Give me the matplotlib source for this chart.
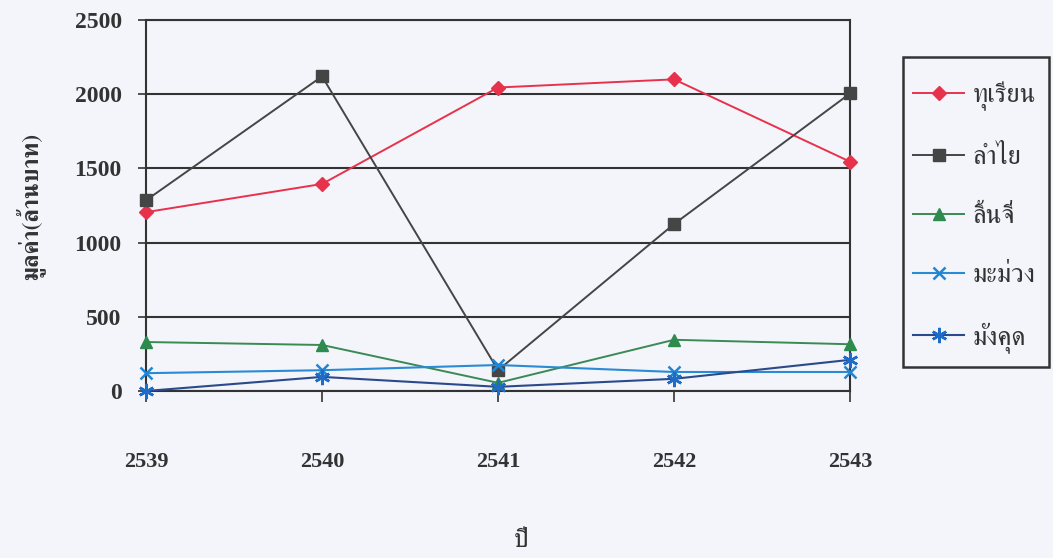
import matplotlib
matplotlib.use("Agg")
import matplotlib.pyplot as plt
from matplotlib import font_manager
from matplotlib.patches import Rectangle

years = [2539, 2540, 2541, 2542, 2543]
series_names = ["ทุเรียน", "ลำไย", "ลิ้นจี่", "มะม่วง", "มังคุด"]
durian = [1205, 1395, 2045, 2100, 1545]
longan = [1285, 2120, 140, 1125, 2005]
lychee = [330, 310, 55, 345, 315]
mango = [120, 140, 175, 128, 128]
mangosteen = [0, 95, 28, 82, 210]
y_ticks = [0, 500, 1000, 1500, 2000, 2500]
x_label = "ปี"
y_label = "มูลค่า(ล้านบาท)"

# find an installed font that has Thai glyphs
thai_font = None
try:
    from fontTools.ttLib import TTFont
    cands = []
    for f in font_manager.fontManager.ttflist:
        try:
            tt = TTFont(f.fname, fontNumber=0, lazy=True)
            cmap = tt.getBestCmap()
            if cmap and 0x0E17 in cmap and 0x0E33 in cmap:
                cands.append(f.name)
        except Exception:
            pass
    if cands:
        serif = [c for c in cands if "Serif" in c]
        thai_font = (serif or cands)[0]
except Exception:
    pass

num_family = ["Liberation Serif", "DejaVu Serif"]
thai_family = ([thai_font] if thai_font else []) + ["Liberation Serif", "DejaVu Sans"]

W, H = 1053, 558
fig = plt.figure(figsize=(W / 100, H / 100), dpi=100)
bg = "#f3f5fa"
fig.patch.set_facecolor(bg)
ax = fig.add_axes([0.1387, 0.2993, 0.6686, 0.6649])
ax.set_facecolor(bg)

grid_c = "#333333"
for v in y_ticks:
    ax.axhline(v, color=grid_c, lw=1.5, zorder=1)

styles = [
    (durian, "#e8324c", "#e8324c", "D", 7, 1.4),
    (longan, "#454545", "#454545", "s", 8, 1.4),
    (lychee, "#3a8a55", "#2e8b4e", "^", 8, 1.4),
    (mango, "#2a8ad4", "#1f86d6", "x", 9, 1.5),
    (mangosteen, "#2b4a8c", "#1f6cc8", (6, 2, 0), 11, 1.5),
]
for (vals, lc, mc, mk, ms, lw), name in zip(styles, series_names):
    ax.plot(years, vals, color=lc, lw=lw, marker=mk, markersize=ms,
            markerfacecolor=mc, markeredgecolor=mc,
            markeredgewidth=1.8 if (mk == "x" or isinstance(mk, tuple)) else 1.0,
            label=name, zorder=3, clip_on=False)

ax.set_xlim(2539, 2543)
ax.set_ylim(0, 2500)
ax.set_xticks(years)
ax.set_yticks(y_ticks)
ax.set_xticklabels([str(y) for y in years], fontfamily=num_family, fontweight="bold", fontsize=16, color="#333333")
ax.set_yticklabels([str(v) for v in y_ticks], fontfamily=num_family, fontweight="bold", fontsize=17, color="#333333")
ax.tick_params(axis="x", direction="out", length=8, width=1.2, pad=36, colors="#333333")
ax.tick_params(axis="y", direction="inout", length=11, width=1.2, pad=12, colors="#333333")
for s in ax.spines.values():
    s.set_color(grid_c)
    s.set_linewidth(1.5)

fig.text(0.495, 0.03, x_label, family=thai_family, fontsize=19, color="#333333", ha="center", va="center")
fig.text(0.029, 0.63, y_label, family=thai_family, fontsize=17, fontweight="bold", color="#333333",
         ha="center", va="center", rotation=90)

# legend frame
fig.patches.append(Rectangle((903 / W, 1 - 367 / H), (1049 - 903) / W, (367 - 57) / H,
                             transform=fig.transFigure, fill=False,
                             edgecolor="#333333", lw=1.8, zorder=0))

leg = ax.legend(loc="upper left", bbox_to_anchor=(913 / W, 1 - 82 / H), bbox_transform=fig.transFigure,
                prop={"family": thai_family, "size": 19}, frameon=False,
                labelspacing=1.3, borderpad=0.0,
                handlelength=1.95, handletextpad=0.3, borderaxespad=0)
for t in leg.get_texts():
    t.set_color("#333333")

fig.savefig("out.png", dpi=100, facecolor=bg)
